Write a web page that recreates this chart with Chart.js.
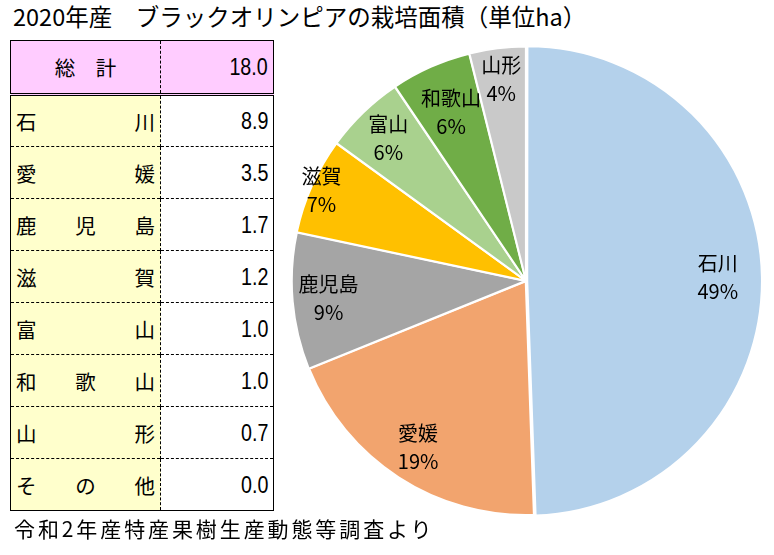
<!DOCTYPE html>
<html lang="ja">
<head>
<meta charset="utf-8">
<title>ブラックオリンピアの栽培面積</title>
<script src="https://cdn.jsdelivr.net/npm/chart.js@4"></script>
<style>
    html, body {
        margin: 0;
        padding: 0;
        background: #fff;
    }
    body {
        width: 774px;
        height: 555px;
        position: relative;
        overflow: hidden;
        font-family: "Noto Sans CJK JP", sans-serif;
        color: #000;
    }
    #title {
        position: absolute;
        left: 13px;
        top: 1px;
        font-size: 23.5px;
        line-height: 30px;
        white-space: pre;
    }
    #note {
        position: absolute;
        left: 14px;
        top: 513px;
        font-size: 21px;
        line-height: 30px;
        letter-spacing: 2.9px;
        white-space: pre;
    }
    #areaTable {
        position: absolute;
        left: 10px;
        top: 40px;
        border-collapse: collapse;
        border: 1px solid #000;
        table-layout: fixed;
    }
    #areaTable td {
        height: 52px;
        padding: 0 5px;
        border-top: 1px dashed #000;
        font-size: 20.5px;
        box-sizing: border-box;
    }
    #areaTable td.name {
        width: 150px;
        background: #ffffcc;
        border-right: 1px dashed #000;
    }
    #areaTable td.value {
        width: 113px;
        text-align: right;
        font-family: "Liberation Sans", sans-serif;
        font-size: 24px;
    }
    #areaTable td.value span {
        display: inline-block;
        transform: scaleX(0.82);
        transform-origin: right center;
    }
    #areaTable tr.total td {
        background: #ffccff;
        border-bottom: 3px double #000;
        height: 54px;
    }
    #areaTable tr.total td.name {
        text-align: center;
    }
    .spread {
        display: flex;
        justify-content: space-between;
    }
    #pieWrap {
        position: absolute;
        left: 289px;
        top: 44px;
        width: 474px;
        height: 474px;
    }
</style>
</head>
<body>
<div id="title">2020年産　ブラックオリンピアの栽培面積（単位ha）</div>
<table id="areaTable"></table>
<div id="pieWrap"><canvas id="pieChart" width="474" height="474"></canvas></div>
<div id="note">令和2年産特産果樹生産動態等調査より</div>

<script>
// Data (ha)
const prefectures = ['石川', '愛媛', '鹿児島', '滋賀', '富山', '和歌山', '山形', 'その他'];
const areas = [8.9, 3.5, 1.7, 1.2, 1.0, 1.0, 0.7, 0.0];
const totalArea = 18.0;

const sliceColors = ['#b4d1eb', '#f2a46e', '#a5a5a5', '#ffc000', '#a9d18e', '#70ad47', '#c9c9c9'];
// how far out each label sits, as a share of the radius
const labelRadius = [0.80, 0.84, 0.84, 0.95, 0.84, 0.78, 0.86];

let pieChart;

// Fill the table on the left
function buildTable() {
    const table = document.getElementById('areaTable');
    let html = '<tr class="total"><td class="name">総　計</td><td class="value"><span>' +
        totalArea.toFixed(1) + '</span></td></tr>';
    prefectures.forEach(function(name, i) {
        const chars = Array.from(name).map(c => '<span>' + c + '</span>').join('');
        html += '<tr><td class="name"><div class="spread">' + chars + '</div></td>' +
            '<td class="value"><span>' + areas[i].toFixed(1) + '</span></td></tr>';
    });
    table.innerHTML = html;
}

// Name + percent written inside each slice
const sliceLabels = {
    id: 'sliceLabels',
    afterDatasetsDraw(chart) {
        const ctx = chart.ctx;
        const meta = chart.getDatasetMeta(0);
        const values = chart.data.datasets[0].data;
        ctx.save();
        ctx.fillStyle = '#000';
        ctx.textAlign = 'center';
        ctx.textBaseline = 'middle';
        ctx.font = '20px "Noto Sans CJK JP"';
        meta.data.forEach(function(arc, i) {
            const p = arc.getProps(['x', 'y', 'startAngle', 'endAngle', 'outerRadius']);
            const mid = (p.startAngle + p.endAngle) / 2;
            const off = arc.options.offset || 0;
            const r = p.outerRadius * labelRadius[i] + off;
            const x = p.x + Math.cos(mid) * r;
            const y = p.y + Math.sin(mid) * r;
            const pct = Math.round(values[i] / totalArea * 100) + '%';
            ctx.fillText(chart.data.labels[i], x, y - 14);
            ctx.fillText(pct, x, y + 14);
        });
        ctx.restore();
    }
};

function initPieChart() {
    const shown = prefectures.map((p, i) => i).filter(i => areas[i] > 0);
    const ctx = document.getElementById('pieChart').getContext('2d');
    pieChart = new Chart(ctx, {
        type: 'pie',
        data: {
            labels: shown.map(i => prefectures[i]),
            datasets: [{
                data: shown.map(i => areas[i]),
                backgroundColor: sliceColors,
                borderColor: '#fff',
                borderWidth: 2,
                offset: [5, 2, 2, 2, 2, 2, 2]
            }]
        },
        options: {
            responsive: false,
            animation: false,
            layout: { padding: 0 },
            plugins: {
                legend: { display: false },
                tooltip: { enabled: false }
            }
        },
        plugins: [sliceLabels]
    });
}

document.addEventListener('DOMContentLoaded', function() {
    buildTable();
    initPieChart();
});
</script>
</body>
</html>
